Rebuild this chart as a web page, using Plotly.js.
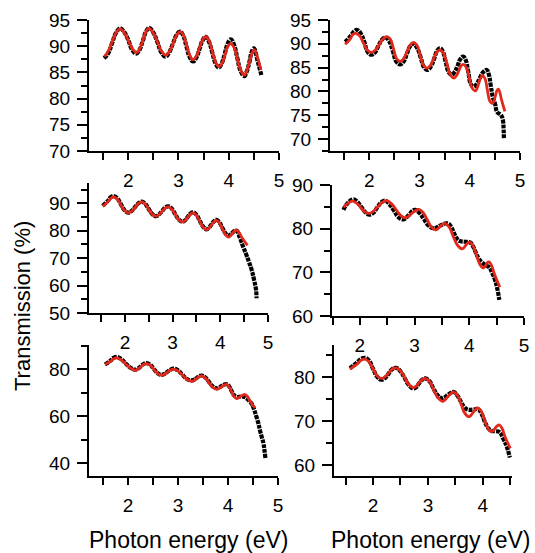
<!DOCTYPE html>
<html>
<head>
<meta charset="utf-8">
<script src="https://cdn.plot.ly/plotly-3.0.1.min.js"></script>
<style>html,body{margin:0;padding:0;background:#fff;}#chart{width:535px;height:553px;}</style>
</head>
<body>
<div id="chart"></div>
<script>
// ---- Panel 1 (top-left) ----
const p1FitX = [1.53,1.61,1.68,1.76,1.84,1.92,2.005,2.09,2.17,2.23,2.29,2.35,2.41,2.495,2.58,2.665,2.75,2.82,2.895,2.965,3.04,3.10,3.165,3.23,3.29,3.35,3.415,3.48,3.54,3.61,3.675,3.74,3.81,3.87,3.925,3.98,4.04,4.11,4.175,4.24,4.31,4.36,4.41,4.46,4.51,4.58,4.64];
const p1FitY = [88.0,89.2,90.8,92.6,93.3,92.6,91.05,89.4,88.8,89.5,91.1,92.7,93.4,92.6,90.85,89.0,88.3,89.0,90.55,92.1,92.8,92.1,90.1,88.2,87.4,88.0,89.6,91.2,91.8,91.0,88.95,86.9,86.1,86.8,88.3,89.9,90.5,89.7,87.5,85.4,84.5,85.3,86.9,88.6,89.3,87.6,85.5];
const p1ExpX = [1.52,1.60,1.68,1.76,1.84,1.92,2.0,2.08,2.16,2.225,2.29,2.355,2.42,2.50,2.58,2.66,2.74,2.815,2.89,2.96,3.03,3.095,3.16,3.225,3.29,3.355,3.42,3.48,3.54,3.605,3.67,3.735,3.80,3.86,3.92,3.98,4.04,4.105,4.17,4.24,4.31,4.36,4.41,4.455,4.50,4.58,4.65];
const p1ExpY = [87.7,88.6,90.6,92.6,93.4,92.7,91.2,89.3,88.6,89.3,91.0,92.8,93.5,92.6,90.8,88.8,88.0,88.8,90.5,92.1,92.8,92.0,89.9,87.9,87.1,87.8,89.5,91.1,91.8,90.9,88.9,86.8,85.9,86.7,88.5,90.5,91.3,90.3,87.8,85.2,84.3,85.2,86.9,88.8,89.6,87.0,84.5];

// ---- Panel 2 (top-right) ----
const p2FitX = [1.52,1.62,1.67,1.72,1.80,1.885,1.97,2.05,2.125,2.20,2.275,2.35,2.42,2.485,2.55,2.62,2.685,2.75,2.815,2.88,2.95,3.015,3.08,3.15,3.215,3.28,3.345,3.41,3.48,3.55,3.62,3.69,3.735,3.78,3.825,3.87,3.93,3.99,4.05,4.11,4.145,4.18,4.215,4.25,4.30,4.35,4.40,4.45,4.48,4.51,4.54,4.57,4.635,4.70];
const p2FitY = [89.9,91.0,91.9,92.2,91.8,90.2,88.6,88.2,88.7,89.85,91.0,91.5,91.0,88.9,86.8,86.3,86.9,88.3,89.7,90.3,89.7,87.6,85.5,84.9,85.4,86.8,88.2,88.7,88.0,85.75,83.4,82.8,83.3,84.25,85.3,85.7,85.1,82.9,80.7,80.1,80.6,81.7,82.8,83.3,82.8,80.4,78.0,77.5,78.0,79.0,80.1,80.5,78.2,75.8];
const p2ExpX = [1.52,1.58,1.64,1.70,1.76,1.83,1.90,1.97,2.05,2.115,2.18,2.25,2.32,2.395,2.47,2.545,2.62,2.685,2.75,2.815,2.88,2.95,3.02,3.09,3.16,3.225,3.29,3.35,3.41,3.465,3.52,3.58,3.64,3.70,3.76,3.815,3.87,3.92,3.97,4.02,4.07,4.135,4.20,4.27,4.34,4.38,4.42,4.46,4.50,4.55,4.62,4.66,4.675,4.68];
const p2ExpY = [90.4,91.0,91.8,92.6,92.9,92.2,90.5,88.3,87.7,88.2,89.5,90.8,91.3,90.6,88.5,86.2,85.7,86.3,87.9,89.5,90.0,89.2,87.3,85.1,84.5,85.2,86.8,88.5,89.1,88.4,86.3,84.1,83.5,84.1,85.4,86.8,87.3,86.6,84.2,81.6,81.0,81.5,82.8,84.1,84.5,83.6,81.2,78.8,77.6,75.6,75.1,74.0,72.0,70.2];

// ---- Panel 3 (middle-left) ----
const p3FitX = [1.53,1.645,1.70,1.76,1.84,1.915,1.99,2.07,2.14,2.21,2.28,2.35,2.42,2.495,2.57,2.64,2.71,2.775,2.84,2.91,2.98,3.055,3.13,3.20,3.26,3.315,3.37,3.43,3.50,3.57,3.64,3.71,3.76,3.815,3.87,3.92,3.98,4.045,4.11,4.17,4.21,4.255,4.30,4.34,4.40,4.455,4.57];
const p3FitY = [88.9,90.6,91.8,92.3,91.5,89.4,87.4,86.5,87.1,88.5,89.9,90.5,89.8,87.9,86.0,85.3,85.8,87.0,88.2,88.7,87.9,85.9,84.0,83.2,83.7,84.9,86.0,86.5,85.6,83.4,81.3,80.4,80.9,82.1,83.3,83.8,82.9,80.7,78.6,77.7,78.1,79.0,79.9,80.2,79.2,77.4,74.7];
const p3ExpX = [1.53,1.645,1.70,1.76,1.84,1.915,1.99,2.07,2.14,2.21,2.28,2.35,2.42,2.495,2.57,2.64,2.71,2.775,2.84,2.91,2.98,3.055,3.13,3.20,3.26,3.315,3.37,3.43,3.50,3.57,3.64,3.71,3.76,3.815,3.87,3.92,3.98,4.045,4.11,4.17,4.21,4.255,4.30,4.34,4.42,4.48,4.55,4.60,4.66,4.71,4.75,4.76];
const p3ExpY = [89.1,91.0,92.2,92.6,91.8,89.6,87.5,86.6,87.2,88.6,90.0,90.6,89.9,88.0,86.1,85.3,85.9,87.1,88.4,88.9,88.1,86.0,84.1,83.3,83.8,85.0,86.2,86.7,85.8,83.6,81.5,80.5,81.1,82.3,83.5,84.0,83.1,81.0,79.0,78.2,78.6,79.3,79.9,80.0,77.0,74.1,71.1,68.7,65.6,62.0,58.4,55.4];

// ---- Panel 4 (middle-right) ----
const p4FitX = [1.70,1.78,1.86,1.935,2.01,2.085,2.16,2.24,2.325,2.41,2.49,2.57,2.655,2.74,2.82,2.885,2.95,3.015,3.08,3.155,3.23,3.305,3.38,3.42,3.465,3.51,3.55,3.63,3.705,3.78,3.86,3.90,3.935,3.97,4.01,4.07,4.13,4.19,4.25,4.28,4.305,4.33,4.36,4.41,4.46,4.56];
const p4FitY = [84.9,85.8,86.3,85.9,84.9,83.9,83.5,83.9,85.0,86.0,86.4,85.8,84.5,83.1,82.5,82.8,83.5,84.1,84.4,83.7,82.1,80.4,79.7,79.9,80.5,81.0,81.2,80.4,78.3,76.3,75.4,75.6,76.2,76.7,76.9,76.0,74.0,71.9,71.0,71.2,71.7,72.2,72.4,71.5,69.6,66.6];
const p4ExpX = [1.70,1.78,1.88,1.955,2.03,2.105,2.18,2.25,2.32,2.39,2.46,2.54,2.62,2.70,2.79,2.845,2.90,2.955,3.01,3.09,3.17,3.25,3.34,3.405,3.47,3.54,3.61,3.665,3.72,3.77,3.82,3.92,4.02,4.07,4.12,4.17,4.22,4.30,4.36,4.42,4.47,4.51,4.55];
const p4ExpY = [84.3,85.9,86.7,86.1,84.9,83.7,83.2,83.7,84.9,86.0,86.4,85.6,84.2,82.7,82.1,82.5,83.2,84.0,84.3,83.6,82.2,80.8,80.1,80.3,80.7,81.1,81.2,80.5,79.0,77.8,77.2,77.0,76.8,75.9,74.5,73.2,72.4,71.6,71.2,69.8,68.3,66.4,63.7];

// ---- Panel 5 (bottom-left) ----
const p5FitX = [1.54,1.655,1.71,1.77,1.86,1.955,2.05,2.14,2.20,2.255,2.31,2.37,2.445,2.52,2.595,2.67,2.73,2.79,2.85,2.91,3.00,3.09,3.18,3.27,3.32,3.37,3.42,3.47,3.545,3.62,3.695,3.77,3.82,3.87,3.92,3.97,4.02,4.07,4.12,4.17,4.21,4.255,4.30,4.34,4.39,4.44,4.54];
const p5FitY = [82.0,83.4,84.4,84.8,84.0,82.2,80.4,79.6,80.0,81.0,82.0,82.4,81.7,79.9,78.1,77.4,77.8,78.7,79.6,80.0,79.3,77.5,75.6,74.9,75.2,76.0,76.8,77.1,76.3,74.3,72.3,71.5,71.8,72.5,73.2,73.5,72.6,70.5,68.4,67.5,67.8,68.4,69.0,69.2,68.4,66.4,63.5];
const p5ExpX = [1.54,1.655,1.71,1.77,1.86,1.955,2.05,2.14,2.20,2.255,2.31,2.37,2.445,2.52,2.595,2.67,2.73,2.79,2.85,2.91,3.00,3.09,3.18,3.27,3.32,3.37,3.42,3.47,3.545,3.62,3.695,3.77,3.82,3.87,3.92,3.97,4.02,4.07,4.12,4.17,4.26,4.34,4.42,4.47,4.52,4.57,4.61,4.64,4.68,4.71,4.73,4.75];
const p5ExpY = [82.0,83.7,84.8,85.2,84.4,82.4,80.6,79.8,80.2,81.2,82.2,82.6,81.9,80.0,78.3,77.6,78.0,78.9,79.8,80.2,79.5,77.6,75.8,75.2,75.5,76.2,77.0,77.3,76.5,74.6,72.7,71.9,72.2,72.8,73.4,73.6,72.8,70.8,69.0,68.2,68.3,68.1,66.6,65.4,63.0,59.7,56.8,54.0,50.8,48.4,45.5,42.0];

// ---- Panel 6 (bottom-right) ----
const p6FitX = [1.58,1.715,1.78,1.85,1.925,2.0,2.075,2.15,2.22,2.285,2.35,2.42,2.50,2.575,2.65,2.73,2.785,2.84,2.895,2.95,3.03,3.105,3.18,3.26,3.31,3.365,3.42,3.47,3.54,3.605,3.67,3.74,3.78,3.825,3.87,3.91,3.97,4.03,4.09,4.15,4.19,4.225,4.26,4.30,4.35,4.40,4.50];
const p6FitY = [81.8,83.0,83.8,84.1,83.5,81.9,80.3,79.7,80.1,80.9,81.8,82.1,81.4,79.9,78.3,77.6,77.9,78.7,79.4,79.7,79.0,77.1,75.3,74.5,74.8,75.6,76.3,76.6,75.8,73.8,71.8,71.0,71.3,72.0,72.7,73.0,72.2,70.3,68.4,67.6,67.8,68.4,68.9,69.1,68.3,66.5,63.8];
const p6ExpX = [1.58,1.715,1.78,1.85,1.925,2.0,2.075,2.15,2.22,2.285,2.35,2.42,2.50,2.575,2.65,2.73,2.785,2.84,2.895,2.95,3.025,3.10,3.175,3.25,3.305,3.36,3.415,3.47,3.535,3.60,3.66,3.72,3.82,3.91,3.97,4.03,4.09,4.15,4.23,4.30,4.37,4.44,4.49];
const p6ExpY = [82.0,83.4,84.1,84.4,83.8,81.9,80.1,79.4,79.8,80.8,81.8,82.1,81.3,79.8,78.2,77.4,77.7,78.6,79.4,79.7,79.1,77.4,75.9,75.2,75.4,75.9,76.4,76.6,75.8,74.4,73.2,72.6,72.6,72.7,71.8,70.0,68.5,67.8,67.7,67.5,66.0,64.0,61.7];

const xTickVals = [2,3,4,5];
const yTicks1 = [70,75,80,85,90,95];
const yTicks2 = [70,75,80,85,90,95];
const yTicks3 = [50,60,70,80,90];
const yTicks4 = [60,70,80,90];
const yTicks5 = [40,60,80];
const yTicks6 = [60,70,80];

const xAxisLabel = 'Photon energy (eV)';
const yAxisLabel = 'Transmission (%)';

const W = 535, H = 553;
const FONT = 'Liberation Sans, Arial, Helvetica, sans-serif';
const RED = '#e2281b';

const panels = [
  {fx:p1FitX, fy:p1FitY, ex:p1ExpX, ey:p1ExpY, xr:[1.22,5.001], yr:[70,95], yt:yTicks1, ymin:2.5, dom:[89,279,20,151]},
  {fx:p2FitX, fy:p2FitY, ex:p2ExpX, ey:p2ExpY, xr:[1.22,5.001], yr:[67.5,95], yt:yTicks2, ymin:2.5, dom:[330,520,20,151]},
  {fx:p3FitX, fy:p3FitY, ex:p3ExpX, ey:p3ExpY, xr:[1.245,5.001], yr:[50,97.4], yt:yTicks3, ymin:5, dom:[89,268,183,313]},
  {fx:p4FitX, fy:p4FitY, ex:p4ExpX, ey:p4ExpY, xr:[1.49,5.001], yr:[60,90], yt:yTicks4, ymin:5, dom:[332,524,185,316]},
  {fx:p5FitX, fy:p5FitY, ex:p5ExpX, ey:p5ExpY, xr:[1.22,5.001], yr:[34.5,90.3], yt:yTicks5, ymin:10, dom:[89,278,345,476]},
  {fx:p6FitX, fy:p6FitY, ex:p6ExpX, ey:p6ExpY, xr:[1.29,4.53], yr:[57.5,87.3], yt:yTicks6, ymin:5, dom:[334,512,345,476]}
];

const data = [];
const layout = {
  width: W, height: H,
  margin: {l:0, r:0, t:0, b:0},
  paper_bgcolor: '#fff', plot_bgcolor: 'rgba(0,0,0,0)',
  showlegend: false,
  font: {family: FONT, color: '#000'},
  annotations: [
    {text: yAxisLabel, xref:'paper', yref:'paper', x: 22/W, y: 1-306/H, textangle:-90,
     showarrow:false, xanchor:'center', yanchor:'middle', font:{family:FONT, size:22, color:'#000'}},
    {text: xAxisLabel, xref:'paper', yref:'paper', x: 188/W, y: 1-540/H,
     showarrow:false, xanchor:'center', yanchor:'middle', font:{family:FONT, size:23, color:'#000'}},
    {text: xAxisLabel, xref:'paper', yref:'paper', x: 430/W, y: 1-540/H,
     showarrow:false, xanchor:'center', yanchor:'middle', font:{family:FONT, size:23, color:'#000'}}
  ]
};

panels.forEach((p, i) => {
  const n = i === 0 ? '' : String(i+1);
  const xa = 'x' + n, ya = 'y' + n;
  data.push({x:p.ex, y:p.ey, xaxis:xa, yaxis:ya, type:'scatter', mode:'lines',
    line:{color:'#000', width:4.2, shape:'spline', smoothing:1.3, dash:'4px,1px'}, hoverinfo:'skip'});
  data.push({x:p.fx, y:p.fy, xaxis:xa, yaxis:ya, type:'scatter', mode:'lines',
    line:{color:RED, width:2.8, shape:'spline', smoothing:1.3}, hoverinfo:'skip'});
  const [x0,x1,y0,y1] = p.dom;
  layout['xaxis' + n] = {
    domain:[x0/W, x1/W], anchor: ya, range:p.xr, fixedrange:true,
    showline:true, linecolor:'#000', linewidth:2, showgrid:false, zeroline:false,
    ticks:'outside', ticklen:7, tickwidth:2, tickcolor:'#000',
    tickmode:'array', tickvals:xTickVals, ticktext:xTickVals.map(String),
    ticklabelstandoff: 4,
    tickfont:{family:FONT, size:19, color:'#000'},
    minor:{dtick:0.5, tick0:0, ticks:'outside', ticklen:7, tickwidth:2, tickcolor:'#000', showgrid:false}
  };
  layout['yaxis' + n] = {
    domain:[1-y1/H, 1-y0/H], anchor: xa, range:p.yr, fixedrange:true,
    showline:true, linecolor:'#000', linewidth:2, showgrid:false, zeroline:false,
    ticks:'outside', ticklen:10, tickwidth:2, tickcolor:'#000',
    tickmode:'array', tickvals:p.yt, ticktext:p.yt.map(String),
    ticklabelstandoff: 3,
    tickfont:{family:FONT, size:19, color:'#000'},
    minor:{dtick:p.ymin, tick0:0, ticks:'outside', ticklen:6, tickwidth:2, tickcolor:'#000', showgrid:false}
  };
});

Plotly.newPlot('chart', data, layout, {displayModeBar:false, staticPlot:true});
</script>
</body>
</html>
